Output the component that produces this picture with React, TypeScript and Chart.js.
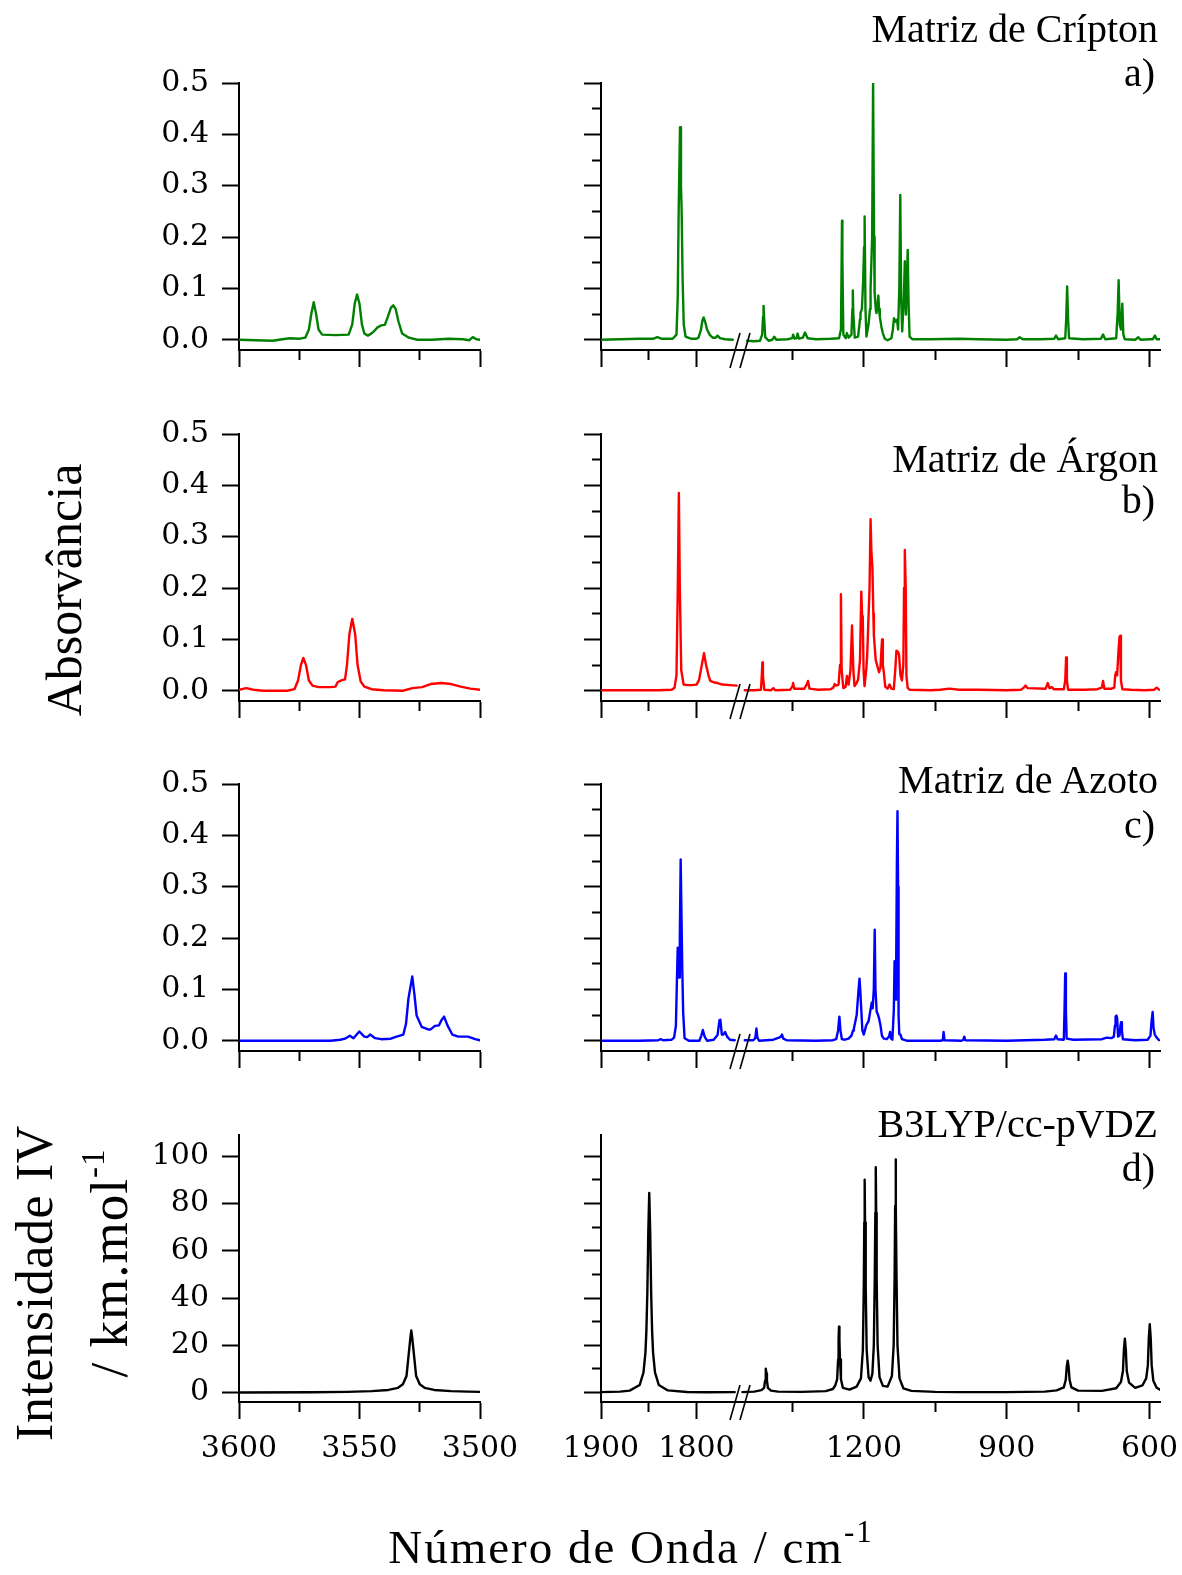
import React, { useEffect, useRef } from 'react';
import { Chart, registerables } from 'chart.js';

Chart.register(...registerables);

type Pt = [number, number];

// ---------- Spectra: [wavenumber / cm-1, value] ----------

// a) krypton matrix
const kryptonHigh: Pt[] = [
  [3600, 0.0], [3593, -0.001], [3586, -0.002], [3582, 0.001], [3579, 0.003], [3575, 0.002],
  [3572.5, 0.004], [3571, 0.02], [3570, 0.05], [3569, 0.073], [3568, 0.05], [3567, 0.02],
  [3565.5, 0.01], [3560, 0.009], [3554.5, 0.01], [3553, 0.03], [3552, 0.07], [3551, 0.088],
  [3550, 0.07], [3549, 0.03], [3548, 0.012], [3546.5, 0.008], [3544.5, 0.014], [3542.5, 0.024],
  [3541, 0.028], [3539.5, 0.029], [3538.2, 0.045], [3537, 0.062], [3536, 0.067], [3535, 0.06],
  [3533.8, 0.035], [3532.3, 0.012], [3529.5, 0.004], [3526, 0.0], [3520, 0.0], [3513, 0.002],
  [3507, 0.001], [3504.5, -0.001], [3503, 0.005], [3501.5, 0.001], [3500, 0.0],
];
const kryptonMid: Pt[] = [
  [1900, 0.0], [1880, 0.001], [1860, 0.002], [1845, 0.002], [1841, 0.005], [1837, 0.002],
  [1825, 0.002], [1821, 0.01], [1819.7, 0.08], [1818.7, 0.25], [1817.3, 0.414], [1816.3, 0.3],
  [1815.6, 0.253], [1814.6, 0.12], [1813.4, 0.03], [1811.5, 0.006], [1806, 0.002], [1800, 0.002],
  [1798, 0.004], [1795.5, 0.018], [1794, 0.036], [1792.6, 0.0435], [1791, 0.035], [1789, 0.02],
  [1786, 0.009], [1783, 0.004], [1780, 0.004], [1778, 0.008], [1775.5, 0.003], [1770, 0.001],
  [1762, 0.0],
];
const kryptonLow: Pt[] = [
  [1445, -0.002], [1430, -0.003], [1418, -0.002], [1413.5, 0.01], [1411.5, 0.045], [1410.6, 0.066],
  [1409.5, 0.045], [1407, 0.005], [1400, -0.002], [1392, 0.0], [1388, 0.006], [1384, 0.0],
  [1360, 0.001], [1350, 0.003], [1348.5, 0.01], [1345, 0.002], [1341, 0.003], [1339, 0.012],
  [1336, 0.002], [1328, 0.004], [1323.5, 0.014], [1318, 0.003], [1300, 0.001], [1270, 0.002],
  [1252, 0.003], [1248, 0.02], [1246.5, 0.16], [1245.8, 0.232], [1245, 0.16], [1243, 0.01],
  [1238, 0.003], [1235.5, 0.013], [1232, 0.004], [1226, 0.01], [1224, 0.06], [1223.1, 0.096],
  [1222, 0.05], [1219, 0.004], [1212, 0.006], [1208, 0.04], [1207, 0.052], [1204, 0.06],
  [1201.4, 0.114], [1199.5, 0.18], [1198.3, 0.24], [1196.5, 0.06], [1194.5, 0.006], [1190, 0.03],
  [1187, 0.06], [1185.8, 0.1], [1182.5, 0.2], [1180.5, 0.501], [1178.5, 0.2], [1177.3, 0.091],
  [1175, 0.06], [1173.4, 0.052], [1171, 0.07], [1169.5, 0.086], [1168, 0.06], [1166.4, 0.045],
  [1163, 0.025], [1160.1, 0.013], [1156, 0.002], [1150, -0.001], [1142, 0.003], [1139, 0.02],
  [1136.6, 0.042], [1133, 0.035], [1130.3, 0.039], [1128, 0.02], [1125.5, 0.1], [1123.4, 0.282],
  [1121.5, 0.08], [1119.4, 0.016], [1116, 0.08], [1113.9, 0.153], [1112.5, 0.09], [1111.6, 0.049],
  [1110, 0.1], [1107.8, 0.175], [1106, 0.07], [1103.9, 0.006], [1098, 0.001], [1060, 0.001],
  [1000, 0.002], [960, 0.001], [900, 0.0], [878, 0.001], [872.8, 0.005], [866, 0.001],
  [830, 0.001], [800, 0.002], [796.3, 0.008], [792, 0.001], [777, 0.003], [775, 0.04],
  [773, 0.104], [771, 0.04], [769, 0.003], [740, 0.001], [702, 0.002], [697.6, 0.01],
  [693, 0.001], [670, 0.003], [667, 0.05], [664.9, 0.116], [662.5, 0.03], [660, 0.02],
  [657.1, 0.07], [655, 0.01], [652, 0.001], [630, 0.0], [623.5, 0.005], [619, 0.0],
  [600, 0.001], [593, 0.001], [588.7, 0.008], [585, 0.001], [578, 0.001],
];

// b) argon matrix
const argonHigh: Pt[] = [
  [3600, 0.002], [3597, 0.005], [3594, 0.002], [3590, 0.0], [3580, 0.0], [3577, 0.003],
  [3575.5, 0.02], [3574.3, 0.05], [3573.3, 0.064], [3572.2, 0.05], [3571, 0.02], [3569.5, 0.01],
  [3567, 0.007], [3562, 0.007], [3560, 0.008], [3559, 0.017], [3557.5, 0.02], [3556, 0.022],
  [3555.2, 0.05], [3554.2, 0.11], [3553, 0.14], [3551.8, 0.11], [3550.8, 0.05], [3549.5, 0.018],
  [3548, 0.008], [3545, 0.003], [3540, 0.001], [3532, 0.0], [3528, 0.005], [3524, 0.007],
  [3520.5, 0.013], [3516, 0.015], [3512, 0.013], [3508, 0.008], [3504, 0.004], [3500, 0.002],
];
const argonMid: Pt[] = [
  [1900, 0.001], [1870, 0.001], [1840, 0.001], [1826, 0.002], [1823, 0.006], [1821, 0.03],
  [1819.6, 0.2], [1818.5, 0.385], [1817.5, 0.2], [1816, 0.04], [1813.5, 0.012], [1809, 0.011],
  [1805, 0.011], [1800, 0.012], [1797.5, 0.02], [1795, 0.045], [1792.2, 0.073], [1790, 0.05],
  [1787.5, 0.03], [1785.6, 0.019], [1781, 0.016], [1777.9, 0.015], [1773, 0.012], [1765, 0.011],
  [1758, 0.01],
];
const argonLow: Pt[] = [
  [1450, 0.001], [1430, 0.001], [1416, 0.002], [1414.2, 0.03], [1413, 0.055], [1411.8, 0.03],
  [1409, 0.002], [1395, 0.001], [1390, 0.005], [1386, 0.001], [1355, 0.002], [1350, 0.008],
  [1348.5, 0.015], [1346, 0.004], [1325, 0.004], [1320, 0.012], [1317.2, 0.019], [1314, 0.004],
  [1296, 0.002], [1270, 0.003], [1264, 0.006], [1261.3, 0.013], [1258, 0.01], [1253, 0.012],
  [1250, 0.05], [1248.1, 0.188], [1246.5, 0.04], [1243, 0.005], [1238, 0.008], [1235.5, 0.029],
  [1232, 0.012], [1228, 0.04], [1224.8, 0.127], [1222, 0.04], [1219.5, 0.009], [1215, 0.015],
  [1212, 0.022], [1208, 0.06], [1205.3, 0.193], [1203.5, 0.145], [1202.2, 0.141], [1200.5, 0.04],
  [1198.5, 0.009], [1195, 0.04], [1193, 0.068], [1191, 0.12], [1188, 0.2], [1185.8, 0.334],
  [1184, 0.27], [1181.9, 0.239], [1180, 0.15], [1178.8, 0.107], [1175, 0.06], [1171.8, 0.049],
  [1168, 0.036], [1165, 0.045], [1163, 0.08], [1161.6, 0.1], [1160, 0.05], [1158, 0.036],
  [1155, 0.008], [1150, 0.004], [1146, 0.012], [1142, 0.004], [1137, 0.003], [1134, 0.04],
  [1131.5, 0.078], [1128, 0.075], [1126, 0.07], [1123, 0.03], [1120, 0.02], [1117, 0.05],
  [1115.5, 0.2], [1113.9, 0.274], [1112, 0.2], [1110.5, 0.03], [1108, 0.006], [1104, 0.002],
  [1060, 0.001], [1040, 0.002], [1020, 0.004], [1000, 0.002], [960, 0.002], [900, 0.001],
  [870, 0.002], [864, 0.006], [860.5, 0.01], [856, 0.005], [818, 0.004], [815, 0.012],
  [813.8, 0.015], [810, 0.005], [805, 0.007], [801, 0.003], [780, 0.003], [777, 0.02],
  [775.2, 0.065], [773.5, 0.02], [771, 0.002], [735, 0.002], [710, 0.003], [700, 0.006],
  [697.6, 0.019], [695, 0.004], [680, 0.004], [674, 0.006], [672, 0.03], [670.4, 0.036],
  [668, 0.03], [665, 0.08], [663, 0.105], [661.5, 0.107], [660, 0.02], [657, 0.003],
  [640, 0.002], [610, 0.001], [590, 0.002], [585, 0.006], [580, 0.002],
];

// c) nitrogen matrix
const nitrogenHigh: Pt[] = [
  [3600, 0.0], [3580, 0.0], [3562, 0.0], [3558, 0.002], [3556, 0.004], [3554, 0.0098],
  [3552.5, 0.005], [3550.1, 0.018], [3548, 0.008], [3546.8, 0.007], [3545.6, 0.012], [3543.5, 0.005],
  [3541, 0.003], [3537, 0.004], [3534.6, 0.008], [3531.8, 0.012], [3530.7, 0.033], [3529.7, 0.082],
  [3528.1, 0.125], [3527.2, 0.09], [3526.3, 0.049], [3524.2, 0.027], [3521.5, 0.022], [3520.5, 0.022],
  [3518.7, 0.029], [3517, 0.03], [3516, 0.04], [3514.9, 0.047], [3513.5, 0.03], [3511.5, 0.012],
  [3509, 0.008], [3505, 0.008], [3502, 0.003], [3500, 0.001],
];
const nitrogenMid: Pt[] = [
  [1900, 0.0], [1860, 0.0], [1840, 0.001], [1838, 0.003], [1835, 0.001], [1826, 0.002],
  [1823.5, 0.006], [1821.6, 0.029], [1820.5, 0.12], [1819.7, 0.181], [1819, 0.14], [1818.3, 0.123],
  [1817.5, 0.2], [1816.6, 0.353], [1815.8, 0.25], [1815, 0.146], [1814, 0.055], [1812.5, 0.005],
  [1808, 0.0], [1797, 0.0], [1795, 0.01], [1793.4, 0.021], [1791.5, 0.008], [1789, 0.0],
  [1782, 0.002], [1778, 0.011], [1776, 0.04], [1775.1, 0.041], [1773.5, 0.012], [1772, 0.012],
  [1770.1, 0.017], [1768, 0.008], [1765, 0.002], [1760, 0.001],
];
const nitrogenLow: Pt[] = [
  [1450, 0.001], [1432, 0.001], [1428, 0.005], [1425.5, 0.024], [1423.5, 0.006], [1420, 0.0],
  [1390, 0.002], [1378, 0.006], [1374, 0.008], [1371.8, 0.012], [1369, 0.004], [1362, 0.001],
  [1300, 0.0], [1265, 0.001], [1258, 0.003], [1254, 0.02], [1251.3, 0.047], [1249, 0.02],
  [1246, 0.003], [1240, 0.002], [1232, 0.004], [1226, 0.01], [1222.5, 0.02], [1220.8, 0.024],
  [1215, 0.05], [1211, 0.1], [1209, 0.121], [1207, 0.09], [1203, 0.02], [1200, 0.012],
  [1195, 0.03], [1190, 0.038], [1186, 0.06], [1183.4, 0.074], [1181.5, 0.063], [1179, 0.1],
  [1177.1, 0.216], [1175.5, 0.1], [1173, 0.057], [1170, 0.05], [1167.9, 0.043], [1165, 0.03],
  [1162, 0.01], [1158, 0.004], [1152, 0.003], [1147, 0.008], [1144.9, 0.017], [1142.5, 0.004],
  [1140, 0.002], [1137, 0.06], [1135.4, 0.155], [1133.5, 0.08], [1132.4, 0.1], [1130.5, 0.35],
  [1129.3, 0.447], [1128, 0.3], [1127, 0.05], [1125.5, 0.013], [1123, 0.012], [1120, 0.003],
  [1110, 0.0], [1040, 0.0], [1034, 0.001], [1032.5, 0.017], [1030.5, 0.001], [995, 0.0],
  [991, 0.002], [989, 0.008], [987, 0.001], [900, 0.0], [820, 0.002], [800, 0.003],
  [796.5, 0.01], [793, 0.003], [780, 0.002], [778.5, 0.06], [777.1, 0.131], [775.6, 0.06],
  [774, 0.004], [760, 0.002], [700, 0.003], [690, 0.006], [680, 0.005], [675, 0.008],
  [672.5, 0.03], [671.3, 0.047], [669.5, 0.049], [668.1, 0.045], [666, 0.008], [663, 0.01],
  [661, 0.03], [659.6, 0.036], [658, 0.02], [656, 0.003], [630, 0.001], [604, 0.002],
  [598, 0.01], [595.5, 0.04], [593.4, 0.056], [591.5, 0.025], [589, 0.012], [585, 0.006],
  [580, 0.001],
];

// d) B3LYP/cc-pVDZ calculated intensities (km mol-1)
const calcHigh: Pt[] = [
  [3600, 0.0], [3570, 0.15], [3555, 0.3], [3545, 0.6], [3538, 1.1], [3534, 2.0],
  [3532, 3.5], [3530.5, 7], [3529.9, 13], [3528.9, 23], [3528.5, 26.3], [3528.1, 23],
  [3527.1, 13], [3526.5, 7], [3525, 3.5], [3523, 2.0], [3519, 1.1], [3512, 0.6],
  [3505, 0.4], [3500, 0.3],
];
const calcMid: Pt[] = [
  [1900, 0.2], [1880, 0.4], [1870, 0.8], [1859.5, 3.2], [1855.5, 8.5], [1853.5, 16.9],
  [1852.5, 26], [1851.5, 42], [1850.5, 67.6], [1849.5, 84.5], [1848.5, 67.6], [1847.5, 42],
  [1846.5, 26], [1845.5, 16.9], [1843.5, 8.5], [1839.5, 3.2], [1830, 0.9], [1810, 0.25],
  [1790, 0.15], [1760, 0.2],
];
const calcLow: Pt[] = [
  [1455, 0.2], [1430, 0.4], [1415, 1.0], [1409.4, 2.0], [1407.4, 5.0], [1406.4, 8.1],
  [1405.4, 10.1], [1404.4, 8.1], [1403.4, 5.0], [1401.4, 2.0], [1395, 0.8], [1380, 0.4],
  [1330, 0.3], [1280, 0.6], [1265, 1.5], [1260, 3.0], [1256, 5.6], [1254, 14],
  [1253, 22], [1252.1, 27.9], [1251.2, 22], [1250, 14], [1248, 5.6], [1244, 2.0],
  [1230, 1.2], [1215, 2.5], [1206, 6], [1202, 18], [1200, 45], [1199, 72],
  [1198.2, 90.1], [1197.4, 72], [1196, 45], [1194, 18], [1190, 6.5], [1186, 5],
  [1182, 8], [1179, 20], [1177, 48], [1175.8, 76], [1174.9, 95.4], [1174, 76],
  [1173, 48], [1171, 20], [1167, 6.5], [1160, 2.8], [1150, 2.5], [1141, 7],
  [1137.3, 20], [1135.3, 49], [1134.2, 79], [1133.3, 98.7], [1132.4, 79], [1131.3, 49],
  [1129.3, 20], [1125, 6], [1117, 1.8], [1100, 0.7], [1050, 0.3], [1000, 0.2],
  [900, 0.2], [820, 0.4], [795, 0.9], [780, 2.2], [775.9, 5.4], [773.9, 10.8],
  [771.9, 13.5], [769.9, 10.8], [767.9, 5.4], [764, 2.2], [750, 0.8], [700, 0.7],
  [670, 1.8], [660, 4.5], [655.8, 9.1], [653.8, 18.2], [651.8, 22.8], [649.8, 18.2],
  [647.8, 9.1], [643, 4.2], [630, 2.0], [615, 3], [607, 6], [603.5, 11.6],
  [601.5, 23.1], [599.5, 28.9], [597.5, 23.1], [595.5, 11.6], [592, 5], [585, 2],
  [578, 1.2],
];

// ---------- Axis ticks ----------
const absorbanceTicks = [0, 0.05, 0.1, 0.15, 0.2, 0.25, 0.3, 0.35, 0.4, 0.45, 0.5];
const intensityTicks = [0, 10, 20, 30, 40, 50, 60, 70, 80, 90, 100];
const highTicks = [3600, 3575, 3550, 3525, 3500];
const highLabels = [3600, 3550, 3500];
const midTicks = [1900, 1850, 1800];
const midLabels = [1900, 1800];
const lowTicks = [1350, 1200, 1050, 900, 750, 600];
const lowLabels = [1200, 900, 600];

const panelTitles = ['Matriz de Crípton', 'Matriz de Árgon', 'Matriz de Azoto', 'B3LYP/cc-pVDZ'];
const panelTags = ['a)', 'b)', 'c)', 'd)'];
const panelColors = ['#008000', '#ff0000', '#0000ff', '#000000'];

// ---------- Layout ----------
const FONT = "'Liberation Serif', 'Times New Roman', serif";
const TICK_FONT = "'DejaVu Serif', serif";
const PAGE_W = 1182;
const PAGE_H = 1575;
const AREA_H = 267;
const panelTops = [83, 434, 784, 1135];
const titleBaselines = [42, 472, 793, 1137];
const tagBaselines = [86, 513, 838, 1181];

type Segment = { left: number; right: number; min: number; max: number; ticks: number[]; labels: number[] };
const segHigh: Segment = { left: 239, right: 480, min: 3500, max: 3600, ticks: highTicks, labels: highLabels };
const segMid: Segment = { left: 601, right: 740, min: 1754.5, max: 1900, ticks: midTicks, labels: midLabels };
const segLow: Segment = { left: 740, right: 1160, min: 578, max: 1460, ticks: lowTicks, labels: lowLabels };

Chart.defaults.font.family = FONT;
Chart.defaults.color = '#000';

// Two slanted strokes marking the axis break at the left edge of the chart area.
const axisBreak = {
  id: 'axisBreak',
  afterDraw(chart: any) {
    const { ctx, chartArea } = chart;
    const x = chartArea.left;
    const y = chartArea.bottom;
    ctx.save();
    ctx.strokeStyle = '#000';
    ctx.lineWidth = 1.6;
    for (const dx of [-5, 5]) {
      ctx.beginPath();
      ctx.moveTo(x + dx - 5, y + 18);
      ctx.lineTo(x + dx + 5, y - 17);
      ctx.stroke();
    }
    ctx.restore();
  },
};

type PanelProps = {
  seg: Segment;
  top: number;
  data: Pt[];
  color: string;
  yMin: number;
  yMax: number;
  yTicks: number[];
  yMajor: (v: number) => boolean;
  yFmt: (v: number) => string;
  yMode: 'labels' | 'ticks' | 'none';
  xLabels: boolean;
  breakMark: boolean;
};

// Canvas margins around each plot box; wide enough that the edge tick labels
// never force the layout to shrink the plot area.
const ML = 64;
const MT = 44;
const MR = 72;
const MB = 6;
const X_AXIS_H = 80;

function SpectrumPanel(p: PanelProps) {
  const ref = useRef<HTMLCanvasElement>(null);
  const yW = p.yMode === 'labels' ? 140 : p.yMode === 'ticks' ? 20 : 0;
  const width = p.seg.right - p.seg.left + yW + ML + MR;
  const height = AREA_H + X_AXIS_H + MT + MB;
  const left = p.seg.left - yW - ML;
  const top = p.top - MT;

  useEffect(() => {
    const seg = p.seg;
    const chart = new Chart(ref.current as HTMLCanvasElement, {
      type: 'line',
      data: {
        datasets: [
          {
            data: p.data.map(([x, y]) => ({ x, y })),
            borderColor: p.color,
            borderWidth: 2.4,
            pointRadius: 0,
            tension: 0,
            fill: false,
            borderJoinStyle: 'round',
            borderCapStyle: 'round',
          } as any,
        ],
      },
      options: {
        responsive: false,
        maintainAspectRatio: false,
        animation: false,
        devicePixelRatio: 1,
        events: [],
        layout: { autoPadding: false, padding: { left: ML, top: MT, right: MR, bottom: MB } } as any,
        plugins: { legend: { display: false }, tooltip: { enabled: false } },
        scales: {
          x: {
            type: 'linear',
            reverse: true,
            min: seg.min,
            max: seg.max,
            afterBuildTicks: (s: any) => {
              s.ticks = seg.ticks.map((v) => ({ value: v }));
            },
            afterFit: (s: any) => {
              s.height = X_AXIS_H;
            },
            ticks: {
              display: p.xLabels,
              autoSkip: false,
              maxRotation: 0,
              minRotation: 0,
              padding: 15,
              color: '#000',
              font: { family: TICK_FONT, size: 30, lineHeight: 1 },
              callback: (v: any) => (seg.labels.includes(Number(v)) ? String(v) : ''),
            },
            grid: {
              drawOnChartArea: false,
              drawTicks: true,
              tickLength: 17,
              tickWidth: 2,
              tickColor: '#000',
              tickBorderDash: (c: any) => (!c.tick || seg.labels.includes(c.tick.value) ? [] : [9, 100]),
            },
            border: { display: true, color: '#000', width: 2 },
          } as any,
          y: {
            type: 'linear',
            display: p.yMode !== 'none',
            min: p.yMin,
            max: p.yMax,
            afterBuildTicks: (s: any) => {
              s.ticks = p.yTicks.map((v) => ({ value: v }));
            },
            afterFit: (s: any) => {
              s.width = yW;
            },
            ticks: {
              display: p.yMode === 'labels',
              padding: 13,
              color: '#000',
              font: { family: TICK_FONT, size: 30, lineHeight: 1 },
              callback: (v: any) => (p.yMajor(Number(v)) ? p.yFmt(Number(v)) : ''),
            },
            grid: {
              drawOnChartArea: false,
              drawTicks: true,
              tickLength: 17,
              tickWidth: 2,
              tickColor: '#000',
              tickBorderDash: (c: any) => (!c.tick || p.yMajor(c.tick.value) ? [] : [0, 8, 9, 100]),
            },
            border: { display: true, color: '#000', width: 2 },
          } as any,
        },
      },
      plugins: p.breakMark ? [axisBreak] : [],
    });
    return () => chart.destroy();
  }, []);

  return (
    <canvas
      ref={ref}
      width={width}
      height={height}
      style={{ position: 'absolute', left, top, width, height }}
    />
  );
}

const absMajor = (v: number) => Math.round(v * 100) % 10 === 0;
const absFmt = (v: number) => v.toFixed(1);
const intMajor = (v: number) => Math.round(v) % 20 === 0;
const intFmt = (v: number) => String(Math.round(v));

const spectra: Pt[][][] = [
  [kryptonHigh, kryptonMid, kryptonLow],
  [argonHigh, argonMid, argonLow],
  [nitrogenHigh, nitrogenMid, nitrogenLow],
  [calcHigh, calcMid, calcLow],
];

export default function App() {
  return (
    <div
      style={{
        position: 'absolute',
        left: 0,
        top: 0,
        width: PAGE_W,
        height: PAGE_H,
        overflow: 'hidden',
        background: '#fff',
      }}
    >
      {spectra.map((row, r) => {
        const calc = r === 3;
        const common = {
          top: panelTops[r],
          color: panelColors[r],
          yMin: calc ? -4 : -0.02,
          yMax: calc ? 109 : 0.5,
          yTicks: calc ? intensityTicks : absorbanceTicks,
          yMajor: calc ? intMajor : absMajor,
          yFmt: calc ? intFmt : absFmt,
          xLabels: calc,
        };
        return (
          <React.Fragment key={r}>
            <SpectrumPanel {...common} seg={segHigh} data={row[0]} yMode="labels" breakMark={false} />
            <SpectrumPanel {...common} seg={segMid} data={row[1]} yMode="ticks" breakMark={false} />
            <SpectrumPanel {...common} seg={segLow} data={row[2]} yMode="none" breakMark={true} />
          </React.Fragment>
        );
      })}
      <svg
        width={PAGE_W}
        height={PAGE_H}
        style={{ position: 'absolute', left: 0, top: 0, pointerEvents: 'none' }}
        fontFamily={FONT}
        fill="#000"
      >
        {panelTitles.map((t, i) => (
          <text key={'t' + i} x={1158} y={titleBaselines[i]} fontSize={40} textAnchor="end">
            {t}
          </text>
        ))}
        {panelTags.map((t, i) => (
          <text key={'g' + i} x={1155} y={tagBaselines[i]} fontSize={40} textAnchor="end">
            {t}
          </text>
        ))}
        <text transform="translate(81 590) rotate(-90)" fontSize={50} textAnchor="middle">
          Absorvância
        </text>
        <text
          transform="translate(52 1283) rotate(-90)"
          fontSize={52}
          letterSpacing={0.6}
          textAnchor="middle"
        >
          Intensidade IV
        </text>
        <text
          transform="translate(127 1263) rotate(-90)"
          fontSize={53}
          letterSpacing={1}
          textAnchor="middle"
        >
          / km.mol
          <tspan fontSize={33} dy={-23}>
            -1
          </tspan>
        </text>
        <text x={631} y={1563} fontSize={47} letterSpacing={2} textAnchor="middle">
          Número de Onda / cm
          <tspan fontSize={31} dy={-21}>
            -1
          </tspan>
        </text>
      </svg>
    </div>
  );
}
